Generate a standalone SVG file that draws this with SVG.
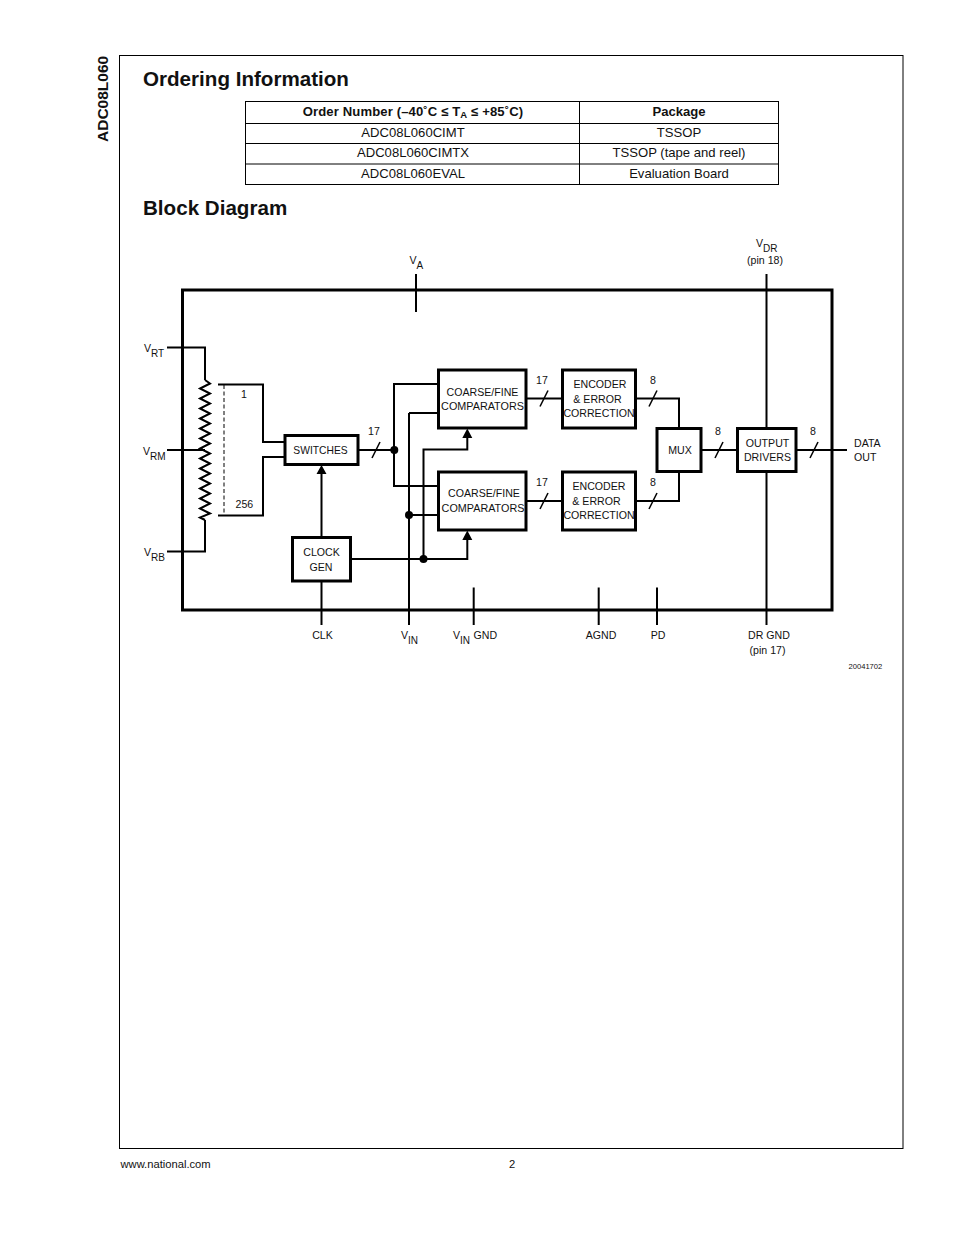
<svg xmlns="http://www.w3.org/2000/svg" width="954" height="1235" viewBox="0 0 954 1235">
<style>
text{font-family:"Liberation Sans",Arial,sans-serif;fill:#111}
.h{font-size:20.600px;font-weight:bold}
.t{font-size:13.100px;text-anchor:middle}
.b{font-weight:bold}
.l{font-size:10.600px}
.m{text-anchor:middle}
.s{font-size:10px}
.box{fill:#fff;stroke:#000;stroke-width:3}
.thin{fill:none;stroke:#000;stroke-width:1}
.w{fill:none;stroke:#000;stroke-width:2}
.o{fill:none;stroke:#000;stroke-width:3}
</style>
<defs>
<path id="sl" d="M-4 8L4 -8" fill="none" stroke="#000" stroke-width="1.500"/>
</defs>
<rect class="thin" x="119.500" y="55.500" width="783.500" height="1093"/>
<text transform="translate(107.500,142) rotate(-90)" font-size="15.500" font-weight="bold">ADC08L060</text>
<text class="h" x="143" y="86">Ordering Information</text>
<text class="h" x="143" y="215">Block Diagram</text>
<g id="ordering-table">
<rect class="thin" x="245.500" y="101.500" width="533" height="83"/>
<path class="thin" d="M245.500 123.500H778.500M245.500 143.500H778.500M245.500 164H778.500M579.500 101.500V184.500"/>
<text class="t b" x="413" y="116" letter-spacing="0.120">Order Number (–40˚C ≤ T<tspan font-size="9.500" dy="2">A</tspan><tspan dy="-2"> ≤ +85˚C)</tspan></text>
<text class="t b" x="679" y="116">Package</text>
<text class="t" x="413" y="137">ADC08L060CIMT</text>
<text class="t" x="679" y="137">TSSOP</text>
<text class="t" x="413" y="157">ADC08L060CIMTX</text>
<text class="t" x="679" y="157">TSSOP (tape and reel)</text>
<text class="t" x="413" y="178">ADC08L060EVAL</text>
<text class="t" x="679" y="178">Evaluation Board</text>
</g>
<g id="chip-outline"><rect class="o" x="182.500" y="290" width="649.500" height="320" /></g>
<g id="connectors">
<path class="w" d="M416 274V312M766.500 274V428M766.500 471V625M473.700 587.500V625M598.700 587.500V625M657 587.500V625M321.500 581V625M321.500 537V472M409 413V625"/>
<path class="w" d="M167 347.500H205V380M167 551.500H205V520M167 450H205"/>
<path class="w" d="M218 384.500H263V442H284M218 515.500H263V457H284"/>
<path class="thin" stroke-dasharray="4 2.500" d="M224 385V515"/>
<path class="w" d="M205 380L210 383.500L200 388.500L210 393.500L200 398.500L210 403.500L200 408.500L210 413.500L200 418.500L210 423.500L200 428.500L210 433.500L200 438.500L210 443.500L200 448.500L210 453.500L200 458.500L210 463.500L200 468.500L210 473.500L200 478.500L210 483.500L200 488.500L210 493.500L200 498.500L210 503.500L200 508.500L210 513.500L200 517.500L205 520"/>
<path class="w" d="M358 450H394M438 384H394V486H438M438 413H409M409 515H438M350 559H467.300V537M423.500 559V449.500H467.300V435"/>
<path class="w" d="M526 398.500H562M526 501H562M636 398.500H679V428M636 501H679V471M701 450H737M796 450H847"/>
<path d="M321.500 465L316.500 474H326.500ZM467.300 428.500L462.300 438H472.300ZM467.300 530.500L462.300 540H472.300Z" fill="#000"/>
<circle cx="394.300" cy="450" r="4"/><circle cx="409" cy="515" r="4"/><circle cx="423.500" cy="559" r="4"/>
<use href="#sl" x="376" y="450"/><use href="#sl" x="544" y="398.500"/><use href="#sl" x="544" y="501"/><use href="#sl" x="653" y="398.500"/><use href="#sl" x="653" y="501"/><use href="#sl" x="719" y="450"/><use href="#sl" x="814" y="450"/>
</g>
<g id="switches"><rect class="box" x="285" y="435.500" width="73" height="29"/><text class="l m" x="320.500" y="454" font-size="10.300" style="font-size:10.300px">SWITCHES</text></g>
<g id="clock-gen"><rect class="box" x="292.500" y="537.500" width="58" height="43.500"/><text class="l m" x="321.500" y="556">CLOCK</text><text class="l m" x="321" y="571">GEN</text></g>
<g id="comparators-1"><rect class="box" x="438.500" y="370" width="87.500" height="58"/><text class="l m" x="482.500" y="395.500">COARSE/FINE</text><text class="l m" x="482.500" y="410" style="font-size:10.800px">COMPARATORS</text></g>
<g id="comparators-2"><rect class="box" x="438.500" y="472" width="87.500" height="58"/><text class="l m" x="484" y="497">COARSE/FINE</text><text class="l m" x="483" y="511.500" style="font-size:10.800px">COMPARATORS</text></g>
<g id="encoder-1"><rect class="box" x="562.500" y="370" width="73" height="58"/><text class="l m" x="600" y="388">ENCODER</text><text class="l m" x="597.500" y="402.500">&amp; ERROR</text><text class="l m" x="599" y="417">CORRECTION</text></g>
<g id="encoder-2"><rect class="box" x="562.500" y="472" width="73" height="58"/><text class="l m" x="599" y="490">ENCODER</text><text class="l m" x="596.500" y="504.500">&amp; ERROR</text><text class="l m" x="599" y="519">CORRECTION</text></g>
<g id="mux"><rect class="box" x="657" y="428.500" width="44" height="43"/><text class="l m" x="680" y="454">MUX</text></g>
<g id="output-drivers"><rect class="box" x="737.500" y="428.500" width="58.500" height="43"/><text class="l m" x="767.500" y="446.500">OUTPUT</text><text class="l m" x="767.500" y="461">DRIVERS</text></g>
<g id="labels">
<text class="l" x="241" y="397.500">1</text><text class="l" x="235.500" y="508">256</text>
<text class="l m" x="374" y="435">17</text><text class="l m" x="542" y="384">17</text><text class="l m" x="542" y="486">17</text><text class="l m" x="653" y="384">8</text><text class="l m" x="653" y="486">8</text><text class="l m" x="718" y="435">8</text><text class="l m" x="813" y="435">8</text>
<text class="l" x="409.500" y="264">V<tspan class="s" dy="5">A</tspan></text>
<text class="l" x="756" y="247">V<tspan class="s" dy="5">DR</tspan></text><text class="l m" x="765" y="264">(pin 18)</text>
<text class="l" x="144" y="352">V<tspan class="s" dy="5">RT</tspan></text>
<text class="l" x="143" y="455">V<tspan class="s" dy="5">RM</tspan></text>
<text class="l" x="144" y="556">V<tspan class="s" dy="5">RB</tspan></text>
<text class="l" x="854" y="446.500">DATA</text><text class="l" x="854" y="461">OUT</text>
<text class="l m" x="322.500" y="639">CLK</text>
<text class="l" x="401" y="639">V<tspan class="s" dy="5">IN</tspan></text>
<text class="l" x="453" y="639">V<tspan class="s" dy="5">IN</tspan></text><text class="l" x="473.500" y="639">GND</text>
<text class="l m" x="601" y="639">AGND</text><text class="l m" x="658" y="639">PD</text>
<text class="l m" x="769" y="639">DR GND</text><text class="l m" x="767.500" y="654">(pin 17)</text>
<text x="848.500" y="669" font-size="7.600">20041702</text>
</g>
<text x="120.500" y="1167.500" font-size="11.200">www.national.com</text>
<text x="509" y="1167.500" font-size="11.200">2</text>
</svg>
